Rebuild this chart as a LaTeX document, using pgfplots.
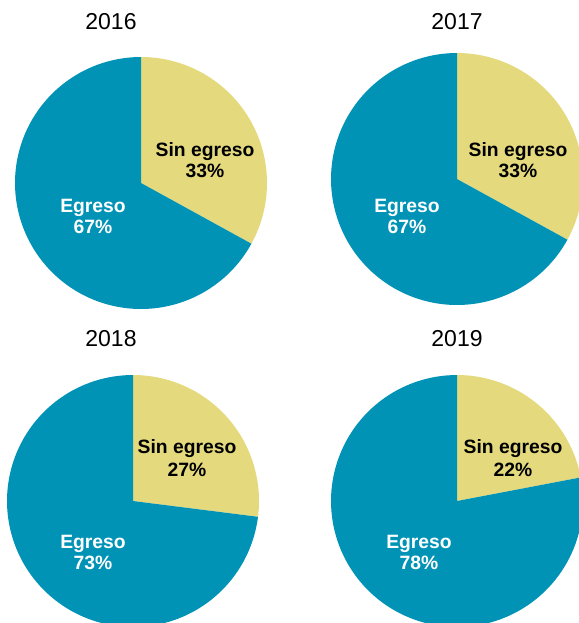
\documentclass[border=0pt]{standalone}
\usepackage{fontspec}
\setmainfont{Liberation Sans}
\usepackage{pgfplots}
\pgfplotsset{compat=1.18}
\definecolor{teal}{RGB}{0,147,182}
\definecolor{yel}{RGB}{228,218,125}
% #1 cx, #2 cy (px from top), #3 Sin egreso pct, #4 Egreso pct
\newcommand{\pie}[4]{%
  \pgfmathsetmacro{\sa}{90-3.6*#3}%
  \pgfmathsetmacro{\ea}{90-3.6*(#3+#4)}%
  \begin{axis}[at={(#1bp,-#2bp)}, anchor=origin, x=126bp, y=126bp,
    xmin=-1, xmax=1, ymin=-1, ymax=1, hide axis, clip=false,
    samples=120, variable=\t]
    \addplot[draw=none, fill=yel, domain=\sa:90] ({cos(\t)},{sin(\t)}) -- (0,0) -- cycle;
    \addplot[draw=none, fill=teal, domain=\ea:\sa] ({cos(\t)},{sin(\t)}) -- (0,0) -- cycle;
  \end{axis}}
\begin{document}
\begin{tikzpicture}[x=1bp,y=1bp]
\useasboundingbox (0,0) rectangle (579,-623);
\clip (0,0) rectangle (579,-623);
\pie{141}{183}{33}{67}
\pie{457}{179}{33}{67}
\pie{133}{501}{27}{73}
\pie{457}{501}{22}{78}
\tikzset{ttl/.style={anchor=base, font=\fontsize{23bp}{27bp}\selectfont, inner sep=0pt},
  lb/.style={anchor=base, font=\fontsize{19.3bp}{23bp}\selectfont\bfseries, inner sep=0pt}}
\node[ttl] at (111,-29.5) {2016};
\node[ttl] at (457,-29.5) {2017};
\node[ttl] at (111,-346) {2018};
\node[ttl] at (457,-346) {2019};
% 2016
\node[lb] at (205,-157) {Sin egreso};
\node[lb] at (205,-177.5) {33\%};
\node[lb,white] at (93,-212) {Egreso};
\node[lb,white] at (93,-233) {67\%};
% 2017
\node[lb] at (518,-157) {Sin egreso};
\node[lb] at (518,-177.5) {33\%};
\node[lb,white] at (407,-212) {Egreso};
\node[lb,white] at (407,-233) {67\%};
% 2018
\node[lb] at (187,-453) {Sin egreso};
\node[lb] at (187,-476) {27\%};
\node[lb,white] at (93,-548) {Egreso};
\node[lb,white] at (93,-569) {73\%};
% 2019
\node[lb] at (513,-453) {Sin egreso};
\node[lb] at (513,-476) {22\%};
\node[lb,white] at (419,-548) {Egreso};
\node[lb,white] at (419,-569) {78\%};
\end{tikzpicture}
\end{document}
